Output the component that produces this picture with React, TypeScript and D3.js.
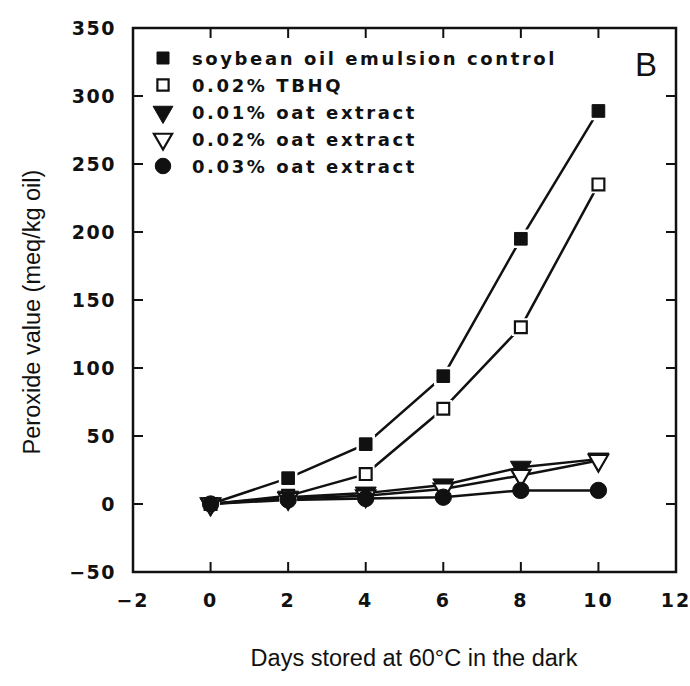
import * as d3 from 'd3';
import { useEffect, useRef } from 'react';

const days = [0, 2, 4, 6, 8, 10];
const control = [0, 19, 44, 94, 195, 289];
const tbhq = [0, 6, 22, 70, 130, 235];
const oat01 = [0, 5, 8, 14, 27, 33];
const oat02 = [0, 4, 6, 11, 21, 32];
const oat03 = [0, 3, 4, 5, 10, 10];

const seriesNames = [
  'soybean oil emulsion control',
  '0.02% TBHQ',
  '0.01% oat extract',
  '0.02% oat extract',
  '0.03% oat extract',
];

const xTicks = [-2, 0, 2, 4, 6, 8, 10, 12];
const yTicks = [-50, 0, 50, 100, 150, 200, 250, 300, 350];

export default function App() {
  const ref = useRef<SVGSVGElement>(null);

  useEffect(() => {
    const svg = d3.select(ref.current);
    svg.selectAll('*').remove();

    const left = 133, right = 676, top = 28, bottom = 572;
    const x = d3.scaleLinear().domain([-2, 12]).range([left, right]);
    const y = d3.scaleLinear().domain([-50, 350]).range([bottom, top]);

    const tickFont = '"DejaVu Sans", sans-serif';
    const ink = '#111';

    // frame
    svg.append('rect')
      .attr('x', left).attr('y', top)
      .attr('width', right - left).attr('height', bottom - top)
      .attr('fill', 'none').attr('stroke', ink).attr('stroke-width', 2.5);

    const tl = 10;
    // x ticks, bottom and top, inward
    const xt = xTicks.slice(1, -1);
    svg.append('g').selectAll('line').data(xt).enter().append('line')
      .attr('x1', d => x(d)).attr('x2', d => x(d))
      .attr('y1', bottom).attr('y2', bottom - tl)
      .attr('stroke', ink).attr('stroke-width', 2);
    svg.append('g').selectAll('line').data(xt).enter().append('line')
      .attr('x1', d => x(d)).attr('x2', d => x(d))
      .attr('y1', top).attr('y2', top + tl)
      .attr('stroke', ink).attr('stroke-width', 2);
    const yt = yTicks.slice(1, -1);
    svg.append('g').selectAll('line').data(yt).enter().append('line')
      .attr('x1', left).attr('x2', left + tl)
      .attr('y1', d => y(d)).attr('y2', d => y(d))
      .attr('stroke', ink).attr('stroke-width', 2);
    svg.append('g').selectAll('line').data(yt).enter().append('line')
      .attr('x1', right).attr('x2', right - tl)
      .attr('y1', d => y(d)).attr('y2', d => y(d))
      .attr('stroke', ink).attr('stroke-width', 2);

    // tick labels
    svg.append('g').selectAll('text').data(xTicks).enter().append('text')
      .attr('x', d => x(d)).attr('y', 607)
      .attr('text-anchor', 'middle')
      .attr('font-family', tickFont).attr('font-weight', 'bold')
      .attr('font-size', 19).attr('letter-spacing', 2)
      .attr('fill', ink)
      .text(d => (d < 0 ? '\u2212' + Math.abs(d) : String(d)));
    svg.append('g').selectAll('text').data(yTicks).enter().append('text')
      .attr('x', 116).attr('y', d => y(d) + 7)
      .attr('text-anchor', 'end')
      .attr('font-family', tickFont).attr('font-weight', 'bold')
      .attr('font-size', 19).attr('letter-spacing', 1.5)
      .attr('fill', ink)
      .text(d => (d < 0 ? '\u2212' + Math.abs(d) : String(d)));

    // axis titles
    svg.append('text')
      .attr('x', 414).attr('y', 666)
      .attr('text-anchor', 'middle')
      .attr('font-family', '"Liberation Sans", Arial, sans-serif')
      .attr('font-size', 23.5).attr('fill', ink)
      .text('Days stored at 60\u00b0C in the dark');
    svg.append('text')
      .attr('transform', 'translate(40,312) rotate(-90)')
      .attr('text-anchor', 'middle')
      .attr('font-family', '"Liberation Sans", Arial, sans-serif')
      .attr('font-size', 23.5).attr('fill', ink)
      .text('Peroxide value (meq/kg oil)');

    // panel letter
    svg.append('text')
      .attr('x', 646).attr('y', 76)
      .attr('text-anchor', 'middle')
      .attr('font-family', '"Liberation Sans", Arial, sans-serif')
      .attr('font-size', 33).attr('fill', ink)
      .text('B');

    const series = [
      { values: control, shape: d3.symbolSquare, size: 160, fill: ink, rot: 0 },
      { values: tbhq, shape: d3.symbolSquare, size: 140, fill: 'white', rot: 0 },
      { values: oat01, shape: d3.symbolTriangle, size: 190, fill: ink, rot: 180 },
      { values: oat02, shape: d3.symbolTriangle, size: 160, fill: 'white', rot: 180 },
      { values: oat03, shape: d3.symbolCircle, size: 210, fill: ink, rot: 0 },
    ];

    const line = d3.line<number>()
      .x((d, i) => x(days[i]))
      .y(d => y(d));

    series.forEach(s => {
      svg.append('path')
        .attr('d', line(s.values))
        .attr('fill', 'none').attr('stroke', ink).attr('stroke-width', 2.5);
    });

    series.forEach((s, k) => {
      const sym = d3.symbol().type(s.shape).size(s.size);
      const g = svg.append('g');
      // small white halo for the two upper series so lines stop short of marks
      if (k < 2) {
        g.selectAll('.halo').data(s.values).enter().append('path')
          .attr('class', 'halo')
          .attr('d', sym())
          .attr('transform', (d, i) => `translate(${x(days[i])},${y(d)}) rotate(${s.rot})`)
          .attr('fill', 'white').attr('stroke', 'white').attr('stroke-width', 6);
      }
      g.selectAll('.mark').data(s.values).enter().append('path')
        .attr('class', 'mark')
        .attr('d', sym())
        .attr('transform', (d, i) => `translate(${x(days[i])},${y(d)}) rotate(${s.rot})`)
        .attr('fill', s.fill).attr('stroke', ink).attr('stroke-width', s.fill === 'white' ? 2.2 : 1);
    });

    // legend
    const lg = svg.append('g');
    const rowY = [58, 85, 112, 139, 166];
    series.forEach((s, k) => {
      const sym = d3.symbol().type(s.shape).size(s.size * 0.9);
      lg.append('path')
        .attr('d', sym())
        .attr('transform', `translate(163,${rowY[k]}) rotate(${s.rot})`)
        .attr('fill', s.fill).attr('stroke', ink).attr('stroke-width', s.fill === 'white' ? 2.2 : 1);
      lg.append('text')
        .attr('x', 192).attr('y', rowY[k] + 7)
        .attr('font-family', tickFont).attr('font-weight', 'bold')
        .attr('font-size', 18).attr('letter-spacing', 2.6)
        .attr('fill', ink)
        .text(seriesNames[k]);
    });
  }, []);

  return (
    <div style={{ background: 'white' }}>
      <svg ref={ref} width={690} height={686}
        style={{ position: 'absolute', left: 0, top: 0, background: 'white' }} />
    </div>
  );
}
